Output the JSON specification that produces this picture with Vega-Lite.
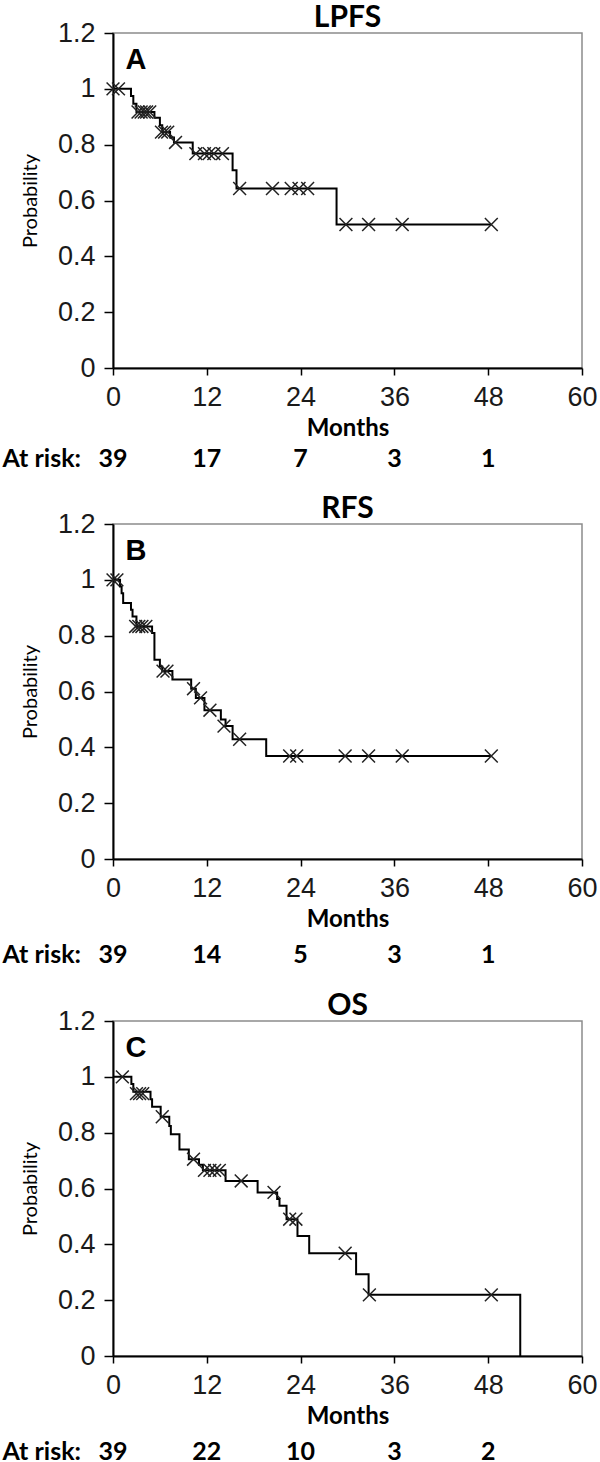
{
  "$schema": "https://vega.github.io/schema/vega-lite/v6.json",
  "background": "white",
  "padding": {"left": 1, "top": 2, "right": 0, "bottom": 0},
  "config": {
    "view": {"stroke": "#8c8c8c", "strokeWidth": 1.5},
    "axis": {"grid": false, "domainColor": "black", "domainWidth": 2, "tickColor": "black", "tickWidth": 1.5, "tickSize": 9,
             "labelFont": "Liberation Sans", "labelFontSize": 27, "labelColor": "#1a1a1a", "titleFont": "Lato", "titleColor": "black"},
    "axisX": {"tickSize": 7, "labelPadding": 9, "titleFontSize": 24, "titleFontWeight": "bold", "titlePadding": 6, "labelFlush": false},
    "axisY": {"labelPadding": 9, "titleFontSize": 20, "titleFontWeight": "normal", "titlePadding": 17},
    "title": {"font": "Lato", "fontSize": 30, "fontWeight": "bold", "color": "black", "offset": -14, "frame": "group"}
  },
  "datasets": {
    "curveA": [
      {"month": 0, "surv": 1}, {"month": 2.3, "surv": 0.974}, {"month": 2.6, "surv": 0.947}, {"month": 3.0, "surv": 0.917},
      {"month": 5.3, "surv": 0.896}, {"month": 6.0, "surv": 0.87}, {"month": 6.3, "surv": 0.845}, {"month": 7.3, "surv": 0.826},
      {"month": 7.8, "surv": 0.808}, {"month": 10.2, "surv": 0.768}, {"month": 15.3, "surv": 0.708}, {"month": 15.8, "surv": 0.643},
      {"month": 28.6, "surv": 0.514}, {"month": 48.4, "surv": 0.514}
    ],
    "censorA": [
      {"month": 0, "surv": 1}, {"month": 0.7, "surv": 1}, {"month": 3.2, "surv": 0.917}, {"month": 3.6, "surv": 0.917},
      {"month": 4.0, "surv": 0.917}, {"month": 4.3, "surv": 0.917}, {"month": 4.7, "surv": 0.917}, {"month": 6.2, "surv": 0.845},
      {"month": 6.6, "surv": 0.845}, {"month": 7.0, "surv": 0.845}, {"month": 8.0, "surv": 0.808}, {"month": 10.6, "surv": 0.768},
      {"month": 11.7, "surv": 0.768}, {"month": 12.3, "surv": 0.768}, {"month": 12.9, "surv": 0.768}, {"month": 14.0, "surv": 0.768},
      {"month": 16.2, "surv": 0.643}, {"month": 20.4, "surv": 0.643}, {"month": 22.8, "surv": 0.643}, {"month": 23.8, "surv": 0.643},
      {"month": 24.9, "surv": 0.643}, {"month": 29.8, "surv": 0.514}, {"month": 32.7, "surv": 0.514}, {"month": 37.0, "surv": 0.514},
      {"month": 48.4, "surv": 0.514}
    ],
    "riskA": [
      {"month": 0, "n": "39"}, {"month": 12, "n": "17"}, {"month": 24, "n": "7"}, {"month": 36, "n": "3"}, {"month": 48, "n": "1"}
    ],
    "curveB": [
      {"month": 0, "surv": 1}, {"month": 0.9, "surv": 0.976}, {"month": 1.1, "surv": 0.952}, {"month": 1.3, "surv": 0.917},
      {"month": 2.3, "surv": 0.893}, {"month": 2.5, "surv": 0.869}, {"month": 3.0, "surv": 0.833}, {"month": 5.0, "surv": 0.81},
      {"month": 5.3, "surv": 0.714}, {"month": 6.0, "surv": 0.69}, {"month": 6.3, "surv": 0.673}, {"month": 7.6, "surv": 0.643},
      {"month": 10.0, "surv": 0.61}, {"month": 10.6, "surv": 0.577}, {"month": 11.7, "surv": 0.533}, {"month": 13.8, "surv": 0.5},
      {"month": 14.4, "surv": 0.476}, {"month": 15.3, "surv": 0.429}, {"month": 19.6, "surv": 0.369}, {"month": 48.4, "surv": 0.369}
    ],
    "censorB": [
      {"month": 0, "surv": 1}, {"month": 0.5, "surv": 1}, {"month": 2.9, "surv": 0.833}, {"month": 3.3, "surv": 0.833},
      {"month": 3.7, "surv": 0.833}, {"month": 4.2, "surv": 0.833}, {"month": 6.4, "surv": 0.673}, {"month": 6.9, "surv": 0.673},
      {"month": 10.3, "surv": 0.61}, {"month": 11.2, "surv": 0.577}, {"month": 12.4, "surv": 0.533}, {"month": 14.2, "surv": 0.476},
      {"month": 16.2, "surv": 0.429}, {"month": 22.6, "surv": 0.369}, {"month": 23.5, "surv": 0.369}, {"month": 29.7, "surv": 0.369},
      {"month": 32.7, "surv": 0.369}, {"month": 37.0, "surv": 0.369}, {"month": 48.4, "surv": 0.369}
    ],
    "riskB": [
      {"month": 0, "n": "39"}, {"month": 12, "n": "14"}, {"month": 24, "n": "5"}, {"month": 36, "n": "3"}, {"month": 48, "n": "1"}
    ],
    "curveC": [
      {"month": 0, "surv": 1}, {"month": 2.35, "surv": 0.974}, {"month": 2.6, "surv": 0.947}, {"month": 4.8, "surv": 0.92},
      {"month": 5.0, "surv": 0.893}, {"month": 6.1, "surv": 0.857}, {"month": 7.2, "surv": 0.824}, {"month": 7.4, "surv": 0.794},
      {"month": 8.5, "surv": 0.74}, {"month": 9.7, "surv": 0.705}, {"month": 11.0, "surv": 0.685}, {"month": 11.5, "surv": 0.665},
      {"month": 14.4, "surv": 0.627}, {"month": 18.5, "surv": 0.586}, {"month": 21.0, "surv": 0.562}, {"month": 21.3, "surv": 0.538},
      {"month": 22.2, "surv": 0.49}, {"month": 23.6, "surv": 0.43}, {"month": 25.1, "surv": 0.368}, {"month": 31.1, "surv": 0.293},
      {"month": 32.7, "surv": 0.219}, {"month": 52.1, "surv": 0}
    ],
    "censorC": [
      {"month": 1.2, "surv": 1}, {"month": 3.0, "surv": 0.94}, {"month": 3.4, "surv": 0.94}, {"month": 3.8, "surv": 0.94},
      {"month": 6.3, "surv": 0.857}, {"month": 10.3, "surv": 0.705}, {"month": 11.7, "surv": 0.665}, {"month": 12.4, "surv": 0.665},
      {"month": 13.0, "surv": 0.665}, {"month": 13.6, "surv": 0.665}, {"month": 16.4, "surv": 0.627}, {"month": 20.6, "surv": 0.586},
      {"month": 22.6, "surv": 0.49}, {"month": 23.4, "surv": 0.49}, {"month": 29.7, "surv": 0.368}, {"month": 32.8, "surv": 0.219},
      {"month": 48.4, "surv": 0.219}
    ],
    "riskC": [
      {"month": 0, "n": "39"}, {"month": 12, "n": "22"}, {"month": 24, "n": "10"}, {"month": 36, "n": "3"}, {"month": 48, "n": "2"}
    ]
  },
  "spacing": 20,
  "vconcat": [
    {
      "title": "LPFS", "width": 469, "height": 335,
      "layer": [
        {"data": {"name": "curveA"}, "mark": {"type": "line", "interpolate": "step-after", "color": "black", "strokeWidth": 2},
         "encoding": {
           "x": {"field": "month", "type": "quantitative", "scale": {"domain": [0, 60], "nice": false}, "axis": {"values": [0, 12, 24, 36, 48, 60], "title": "Months"}},
           "y": {"field": "surv", "type": "quantitative", "scale": {"domain": [0, 1.2], "nice": false}, "axis": {"values": [0, 0.2, 0.4, 0.6, 0.8, 1, 1.2], "format": "~g", "title": "Probability"}}}},
        {"data": {"name": "censorA"}, "mark": {"type": "point", "shape": "M-1,-1L1,1M-1,1L1,-1", "size": 165, "filled": false, "stroke": "#222", "strokeWidth": 1.5, "opacity": 1},
         "encoding": {"x": {"field": "month", "type": "quantitative"}, "y": {"field": "surv", "type": "quantitative"}}},
        {"data": {"values": [{"tag": "A"}]}, "mark": {"type": "text", "align": "left", "baseline": "alphabetic", "font": "Liberation Sans", "fontWeight": "bold", "fontSize": 29, "fill": "black"},
         "encoding": {"x": {"datum": 1.6, "type": "quantitative"}, "y": {"datum": 1.07, "type": "quantitative"}, "text": {"field": "tag", "type": "nominal"}}},
        {"data": {"name": "riskA"}, "mark": {"type": "text", "clip": false, "font": "Lato", "fontWeight": "bold", "fontSize": 25, "fill": "black", "baseline": "middle"},
         "encoding": {"x": {"field": "month", "type": "quantitative"}, "y": {"datum": -0.325, "type": "quantitative"}, "text": {"field": "n", "type": "nominal"}}},
        {"data": {"values": [{"tag": "At risk:"}]}, "mark": {"type": "text", "align": "right", "clip": false, "font": "Lato", "fontWeight": "bold", "fontSize": 25, "fill": "black", "baseline": "middle"},
         "encoding": {"x": {"datum": -4.1, "type": "quantitative"}, "y": {"datum": -0.325, "type": "quantitative"}, "text": {"field": "tag", "type": "nominal"}}}
      ]
    },
    {
      "title": "RFS", "width": 469, "height": 335,
      "layer": [
        {"data": {"name": "curveB"}, "mark": {"type": "line", "interpolate": "step-after", "color": "black", "strokeWidth": 2},
         "encoding": {
           "x": {"field": "month", "type": "quantitative", "scale": {"domain": [0, 60], "nice": false}, "axis": {"values": [0, 12, 24, 36, 48, 60], "title": "Months"}},
           "y": {"field": "surv", "type": "quantitative", "scale": {"domain": [0, 1.2], "nice": false}, "axis": {"values": [0, 0.2, 0.4, 0.6, 0.8, 1, 1.2], "format": "~g", "title": "Probability"}}}},
        {"data": {"name": "censorB"}, "mark": {"type": "point", "shape": "M-1,-1L1,1M-1,1L1,-1", "size": 165, "filled": false, "stroke": "#222", "strokeWidth": 1.5, "opacity": 1},
         "encoding": {"x": {"field": "month", "type": "quantitative"}, "y": {"field": "surv", "type": "quantitative"}}},
        {"data": {"values": [{"tag": "B"}]}, "mark": {"type": "text", "align": "left", "baseline": "alphabetic", "font": "Liberation Sans", "fontWeight": "bold", "fontSize": 29, "fill": "black"},
         "encoding": {"x": {"datum": 1.6, "type": "quantitative"}, "y": {"datum": 1.07, "type": "quantitative"}, "text": {"field": "tag", "type": "nominal"}}},
        {"data": {"name": "riskB"}, "mark": {"type": "text", "clip": false, "font": "Lato", "fontWeight": "bold", "fontSize": 25, "fill": "black", "baseline": "middle"},
         "encoding": {"x": {"field": "month", "type": "quantitative"}, "y": {"datum": -0.345, "type": "quantitative"}, "text": {"field": "n", "type": "nominal"}}},
        {"data": {"values": [{"tag": "At risk:"}]}, "mark": {"type": "text", "align": "right", "clip": false, "font": "Lato", "fontWeight": "bold", "fontSize": 25, "fill": "black", "baseline": "middle"},
         "encoding": {"x": {"datum": -4.1, "type": "quantitative"}, "y": {"datum": -0.345, "type": "quantitative"}, "text": {"field": "tag", "type": "nominal"}}}
      ]
    },
    {
      "title": "OS", "width": 469, "height": 335,
      "layer": [
        {"data": {"name": "curveC"}, "mark": {"type": "line", "interpolate": "step-after", "color": "black", "strokeWidth": 2},
         "encoding": {
           "x": {"field": "month", "type": "quantitative", "scale": {"domain": [0, 60], "nice": false}, "axis": {"values": [0, 12, 24, 36, 48, 60], "title": "Months"}},
           "y": {"field": "surv", "type": "quantitative", "scale": {"domain": [0, 1.2], "nice": false}, "axis": {"values": [0, 0.2, 0.4, 0.6, 0.8, 1, 1.2], "format": "~g", "title": "Probability"}}}},
        {"data": {"name": "censorC"}, "mark": {"type": "point", "shape": "M-1,-1L1,1M-1,1L1,-1", "size": 165, "filled": false, "stroke": "#222", "strokeWidth": 1.5, "opacity": 1},
         "encoding": {"x": {"field": "month", "type": "quantitative"}, "y": {"field": "surv", "type": "quantitative"}}},
        {"data": {"values": [{"tag": "C"}]}, "mark": {"type": "text", "align": "left", "baseline": "alphabetic", "font": "Liberation Sans", "fontWeight": "bold", "fontSize": 29, "fill": "black"},
         "encoding": {"x": {"datum": 1.6, "type": "quantitative"}, "y": {"datum": 1.07, "type": "quantitative"}, "text": {"field": "tag", "type": "nominal"}}},
        {"data": {"name": "riskC"}, "mark": {"type": "text", "clip": false, "font": "Lato", "fontWeight": "bold", "fontSize": 25, "fill": "black", "baseline": "middle"},
         "encoding": {"x": {"field": "month", "type": "quantitative"}, "y": {"datum": -0.345, "type": "quantitative"}, "text": {"field": "n", "type": "nominal"}}},
        {"data": {"values": [{"tag": "At risk:"}]}, "mark": {"type": "text", "align": "right", "clip": false, "font": "Lato", "fontWeight": "bold", "fontSize": 25, "fill": "black", "baseline": "middle"},
         "encoding": {"x": {"datum": -4.1, "type": "quantitative"}, "y": {"datum": -0.345, "type": "quantitative"}, "text": {"field": "tag", "type": "nominal"}}}
      ]
    }
  ]
}
